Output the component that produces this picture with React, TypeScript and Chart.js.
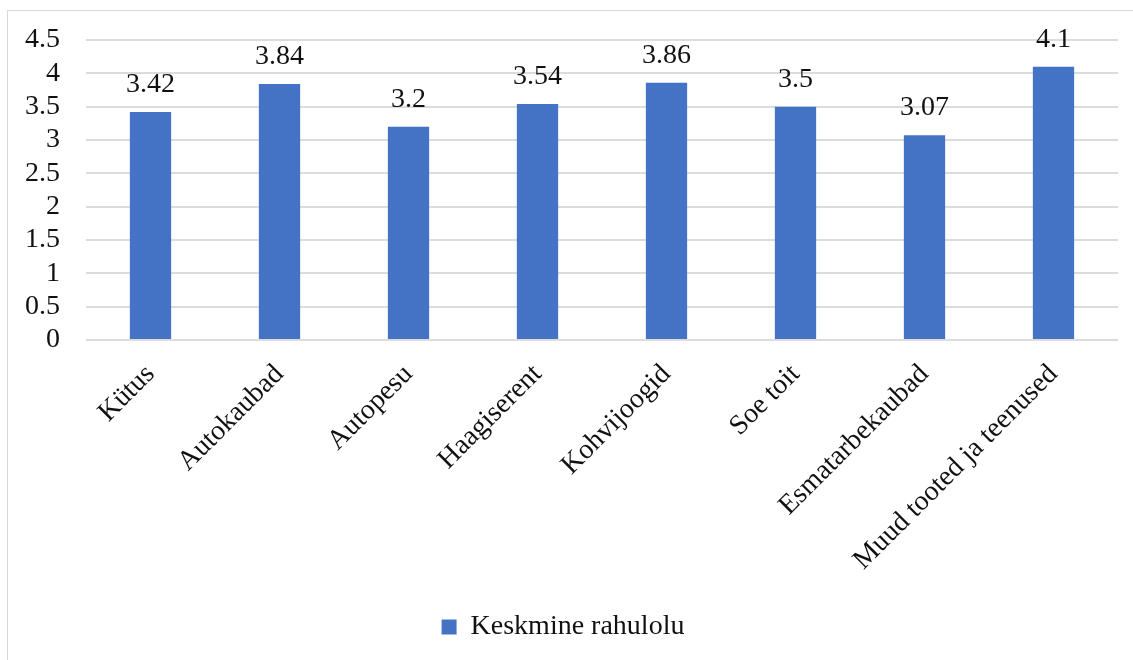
import React, { useEffect, useRef } from "react";
import { Chart, registerables } from "chart.js";

Chart.register(...registerables);

const categories = [
  "Kütus",
  "Autokaubad",
  "Autopesu",
  "Haagiserent",
  "Kohvijoogid",
  "Soe toit",
  "Esmatarbekaubad",
  "Muud tooted ja teenused",
];
const seriesName = "Keskmine rahulolu";
const values = [3.42, 3.84, 3.2, 3.54, 3.86, 3.5, 3.07, 4.1];
const yTicks = [0, 0.5, 1, 1.5, 2, 2.5, 3, 3.5, 4, 4.5];

const FONT = "'Liberation Serif', 'Times New Roman', serif";
const TEXT = "#111111";

const dataLabels = {
  id: "dataLabels",
  afterDatasetsDraw(chart: any) {
    const ctx = chart.ctx;
    const meta = chart.getDatasetMeta(0);
    ctx.save();
    ctx.font = `28px ${FONT}`;
    ctx.fillStyle = TEXT;
    ctx.textAlign = "center";
    ctx.textBaseline = "alphabetic";
    meta.data.forEach((bar: any, i: number) => {
      ctx.fillText(String(values[i]), bar.x, bar.y - 20);
    });
    ctx.restore();
  },
};

export default function App() {
  const ref = useRef<HTMLCanvasElement | null>(null);
  useEffect(() => {
    if (!ref.current) return;
    const chart = new Chart(ref.current, {
      type: "bar",
      data: {
        labels: categories,
        datasets: [
          {
            label: seriesName,
            data: values,
            backgroundColor: "#4472C4",
            borderWidth: 0,
            barPercentage: 0.32,
            categoryPercentage: 1,
          },
        ],
      },
      options: {
        animation: false,
        responsive: false,
        maintainAspectRatio: false,
        layout: { padding: { top: 29, left: 0, right: 28, bottom: 18 } },
        plugins: {
          tooltip: { enabled: false },
          legend: {
            position: "bottom",
            labels: {
              boxWidth: 15,
              boxHeight: 15,
              padding: 10,
              color: TEXT,
              font: { family: FONT, size: 28 },
            },
          },
        },
        scales: {
          x: {
            grid: { display: false },
            border: { display: false },
            ticks: {
              color: TEXT,
              font: { family: FONT, size: 28 },
              minRotation: 45,
              maxRotation: 45,
              autoSkip: false,
              padding: 10,
            },
            afterFit(scale: any) {
              scale.height = 263;
              scale.paddingLeft = 0;
              scale.paddingRight = 0;
            },
          },
          y: {
            min: yTicks[0],
            max: yTicks[yTicks.length - 1],
            grid: { color: "#dcdcdc", lineWidth: 2, drawTicks: false },
            border: { display: false },
            ticks: {
              color: TEXT,
              font: { family: FONT, size: 28 },
              padding: 26,
              autoSkip: false,
              callback: (v: any) => String(v),
            },
            afterBuildTicks(scale: any) {
              scale.ticks = yTicks.map((v) => ({ value: v }));
            },
            afterFit(scale: any) {
              scale.width = 78;
              scale.paddingTop = 0;
              scale.paddingBottom = 0;
            },
          },
        },
      },
      plugins: [dataLabels],
    });
    return () => chart.destroy();
  }, []);
  return (
    <div
      style={{
        position: "fixed",
        left: 7,
        top: 10,
        width: 1140,
        height: 660,
        boxSizing: "border-box",
        border: "1px solid #d9d9d9",
        background: "#fff",
      }}
    >
      <canvas ref={ref} width={1138} height={658} style={{ display: "block" }} />
    </div>
  );
}
